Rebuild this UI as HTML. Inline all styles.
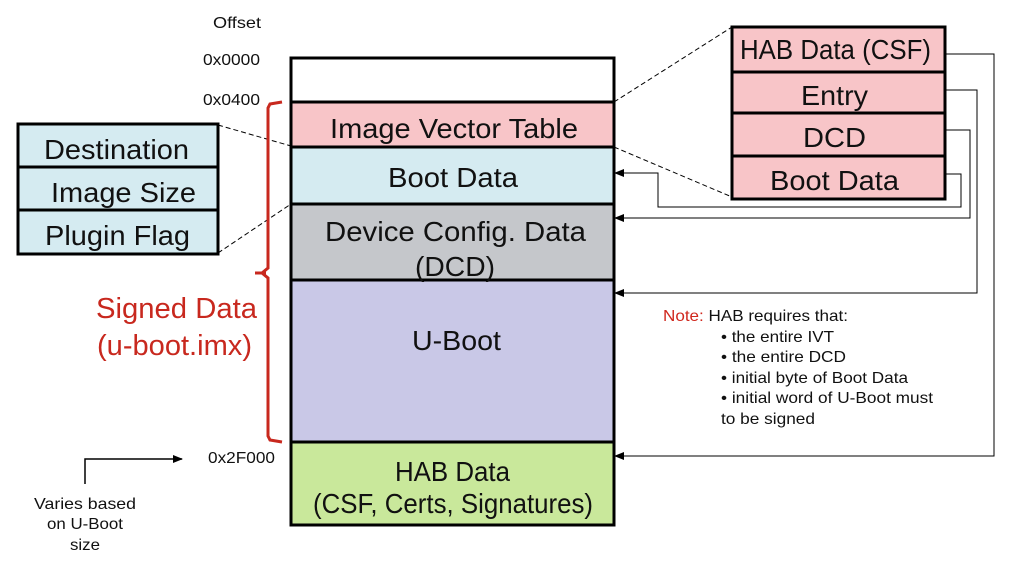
<!DOCTYPE html>
<html><head><style>
html,body{margin:0;padding:0;background:#fff}
svg{display:block}
text{font-family:"Liberation Sans",sans-serif}
</style></head><body>
<svg width="1024" height="579" viewBox="0 0 1024 579" xmlns="http://www.w3.org/2000/svg">
<defs><marker id="ar" markerWidth="10" markerHeight="8" refX="9" refY="4" orient="auto" markerUnits="userSpaceOnUse"><path d="M0,0 L10,4 L0,8 z" fill="#000"/></marker></defs>
<g font-size="16" fill="#111">
<text x="213" y="28" textLength="48" lengthAdjust="spacingAndGlyphs">Offset</text>
<text x="203" y="65" textLength="57" lengthAdjust="spacingAndGlyphs">0x0000</text>
<text x="203" y="105" textLength="57" lengthAdjust="spacingAndGlyphs">0x0400</text>
<text x="208" y="463" textLength="67" lengthAdjust="spacingAndGlyphs">0x2F000</text>
<text x="34" y="509" textLength="102" lengthAdjust="spacingAndGlyphs">Varies based</text>
<text x="47" y="529" textLength="76" lengthAdjust="spacingAndGlyphs">on U-Boot</text>
<text x="70" y="550" textLength="30" lengthAdjust="spacingAndGlyphs">size</text>
</g>
<polyline points="85,484 85,459 182,459" fill="none" stroke="#000" stroke-width="1.5" marker-end="url(#ar)"/>
<g stroke="#000" stroke-width="3">
<rect x="291" y="58" width="323" height="44" fill="#fff"/>
<rect x="291" y="102" width="323" height="45" fill="#f8c5c8"/>
<rect x="291" y="147" width="323" height="57" fill="#d5ebf1"/>
<rect x="291" y="204" width="323" height="76" fill="#c5c7cb"/>
<rect x="291" y="280" width="323" height="162" fill="#c9c8e7"/>
<rect x="291" y="442" width="323" height="83" fill="#c9e89b"/>
</g>
<g font-size="28" fill="#111">
<text x="330" y="138" textLength="248" lengthAdjust="spacingAndGlyphs">Image Vector Table</text>
<text x="388" y="187" textLength="130" lengthAdjust="spacingAndGlyphs">Boot Data</text>
<text x="325" y="241" textLength="261" lengthAdjust="spacingAndGlyphs">Device Config. Data</text>
<text x="415" y="276" textLength="80" lengthAdjust="spacingAndGlyphs">(DCD)</text>
<text x="412" y="350" textLength="89" lengthAdjust="spacingAndGlyphs">U-Boot</text>
<text x="395" y="481" textLength="115" lengthAdjust="spacingAndGlyphs">HAB Data</text>
<text x="313" y="513" textLength="280" lengthAdjust="spacingAndGlyphs">(CSF, Certs, Signatures)</text>
</g>
<g stroke="#000" stroke-width="3" fill="#d5ebf1">
<rect x="18" y="124" width="200" height="43"/>
<rect x="18" y="167" width="200" height="43"/>
<rect x="18" y="210" width="200" height="44"/>
</g>
<g font-size="28" fill="#111">
<text x="44" y="159" textLength="145" lengthAdjust="spacingAndGlyphs">Destination</text>
<text x="51" y="202" textLength="145" lengthAdjust="spacingAndGlyphs">Image Size</text>
<text x="45" y="245" textLength="145" lengthAdjust="spacingAndGlyphs">Plugin Flag</text>
</g>
<g stroke="#000" stroke-width="3" fill="#f8c5c8">
<rect x="732" y="27" width="213" height="45"/>
<rect x="732" y="72" width="213" height="41"/>
<rect x="732" y="113" width="213" height="43"/>
<rect x="732" y="156" width="213" height="43"/>
</g>
<g font-size="28" fill="#111">
<text x="740" y="59" textLength="191" lengthAdjust="spacingAndGlyphs">HAB Data (CSF)</text>
<text x="801" y="105" textLength="67" lengthAdjust="spacingAndGlyphs">Entry</text>
<text x="803" y="147" textLength="63" lengthAdjust="spacingAndGlyphs">DCD</text>
<text x="770" y="190" textLength="129" lengthAdjust="spacingAndGlyphs">Boot Data</text>
</g>
<g stroke="#000" stroke-width="1" stroke-dasharray="5,3" fill="none">
<line x1="614" y1="102" x2="732" y2="27"/>
<line x1="614" y1="147" x2="732" y2="197"/>
<line x1="218" y1="125" x2="291" y2="146"/>
<line x1="218" y1="253" x2="291" y2="204"/>
</g>
<g stroke="#000" stroke-width="1" fill="none" marker-end="url(#ar)">
<polyline points="945,54 994,54 994,456 615,456"/>
<polyline points="945,90 977,90 977,293 615,293"/>
<polyline points="945,130 970,130 970,218 615,218"/>
<polyline points="945,174 961,174 961,207 658,207 658,173 615,173"/>
</g>
<path d="M282,102 L270,104 L268,108 L268,268 L262,273 L268,278 L268,436 L270,440 L282,442" fill="none" stroke="#c8281e" stroke-width="3"/>
<path d="M255,273 L266,273" stroke="#c8281e" stroke-width="3"/>
<g font-size="29" fill="#c8281e">
<text x="96" y="318" textLength="161" lengthAdjust="spacingAndGlyphs">Signed Data</text>
<text x="97" y="355" textLength="155" lengthAdjust="spacingAndGlyphs">(u-boot.imx)</text>
</g>
<g font-size="16" fill="#111">
<text x="663" y="321" textLength="185" lengthAdjust="spacingAndGlyphs"><tspan fill="#d0281e">Note:</tspan> HAB requires that:</text>
<text x="721" y="342" textLength="113" lengthAdjust="spacingAndGlyphs">• the entire IVT</text>
<text x="721" y="362" textLength="125" lengthAdjust="spacingAndGlyphs">• the entire DCD</text>
<text x="721" y="383" textLength="187" lengthAdjust="spacingAndGlyphs">• initial byte of Boot Data</text>
<text x="721" y="403" textLength="212" lengthAdjust="spacingAndGlyphs">• initial word of U-Boot must</text>
<text x="721" y="424" textLength="94" lengthAdjust="spacingAndGlyphs">to be signed</text>
</g>
</svg>
</body></html>
